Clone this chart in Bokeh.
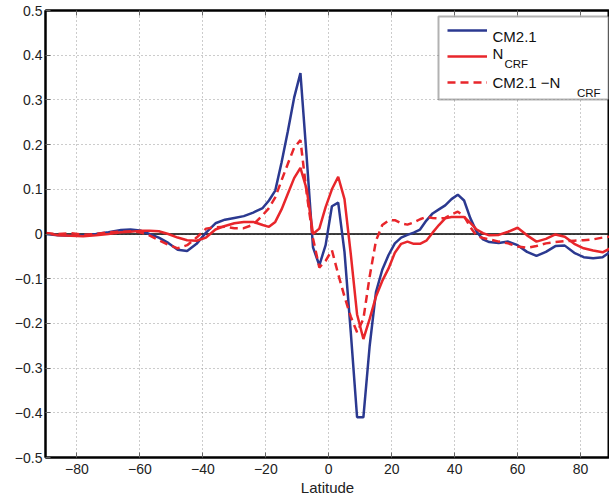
from bokeh.plotting import figure
from bokeh.models import (Range1d, FixedTicker, LinearAxis, Span, Legend, LegendItem, Label, BoxAnnotation)
from bokeh.embed import file_html
from bokeh.resources import INLINE

# ---- data ----
lat = [-90, -86, -82, -78, -74, -70, -66,
       -63, -60, -57, -54, -51, -48, -45, -42, -39, -36, -33, -30, -27, -24, -21,
       -19, -17, -15, -13, -11, -9, -7, -5, -3, -1,
       1, 3, 5, 7, 9, 11, 13, 15, 17, 19, 21, 23, 25, 27, 29, 31, 33, 35, 37, 39,
       41, 43, 45, 47, 49, 51,
       54, 57, 60, 63, 66, 69, 72, 75, 78, 81, 84, 87, 90]

cm21 = [0.000, -0.003, -0.004, -0.003, 0.000, 0.004, 0.009,
        0.010, 0.008, 0.000, -0.008, -0.020, -0.035, -0.038, -0.022, 0.003, 0.024, 0.032, 0.036, 0.040, 0.048, 0.058,
        0.075, 0.097, 0.160, 0.230, 0.305, 0.360, 0.170, -0.030, -0.070, -0.025,
        0.062, 0.070, -0.040, -0.220, -0.410, -0.410, -0.250, -0.130, -0.080, -0.047, -0.021, -0.008, -0.002, 0.003, 0.010, 0.030, 0.046, 0.055, 0.064, 0.078,
        0.088, 0.075, 0.035, 0.005, -0.012, -0.018,
        -0.020, -0.017, -0.025, -0.040, -0.049, -0.040, -0.027, -0.026, -0.042, -0.052, -0.054, -0.052, -0.037]

ncrf = [0.002, -0.003, -0.004, -0.005, -0.003, 0.000, 0.004,
        0.005, 0.007, 0.007, 0.006, 0.000, -0.008, -0.014, -0.015, -0.008, 0.010, 0.018, 0.024, 0.027, 0.027, 0.020,
        0.016, 0.027, 0.055, 0.090, 0.125, 0.148, 0.100, 0.000, 0.012, 0.060,
        0.100, 0.128, 0.078, -0.045, -0.180, -0.235, -0.190, -0.140, -0.105, -0.077, -0.042, -0.022, -0.017, -0.022, -0.022, -0.015, 0.003, 0.020, 0.035, 0.038,
        0.038, 0.038, 0.025, 0.010, 0.002, -0.003,
        -0.002, 0.005, 0.014, -0.003, -0.017, -0.011, -0.001, -0.006, -0.022, -0.032, -0.037, -0.041, -0.030]

diff = [0.002, 0.000, 0.002, -0.002, 0.000, 0.004, 0.005,
        0.006, 0.004, -0.003, -0.014, -0.024, -0.032, -0.025, -0.008, 0.012, 0.015, 0.016, 0.013, 0.013, 0.021, 0.042,
        0.058, 0.082, 0.120, 0.157, 0.193, 0.210, 0.090, -0.010, -0.075, -0.060,
        -0.036, -0.090, -0.140, -0.185, -0.220, -0.190, -0.095, -0.015, 0.020, 0.030, 0.031, 0.024, 0.021, 0.026, 0.033, 0.038, 0.036, 0.035, 0.036, 0.044,
        0.050, 0.040, 0.015, -0.004, -0.009, -0.012,
        -0.017, -0.021, -0.028, -0.031, -0.027, -0.021, -0.018, -0.016, -0.015, -0.014, -0.012, -0.008, -0.005]

x_ticks = [-80, -60, -40, -20, 0, 20, 40, 60, 80]
y_ticks = [-0.5, -0.4, -0.3, -0.2, -0.1, 0, 0.1, 0.2, 0.3, 0.4, 0.5]
x_labels = ["\u221280", "\u221260", "\u221240", "\u221220", "0", "20", "40", "60", "80"]
y_labels = ["\u22120.5", "\u22120.4", "\u22120.3", "\u22120.2", "\u22120.1", "0", "0.1", "0.2", "0.3", "0.4", "0.5"]

BLUE = "#2b3990"
RED = "#e8262b"
FONT = "Liberation Sans"

p = figure(frame_width=564, frame_height=447,
           min_border_left=45, min_border_right=0, min_border_top=10, min_border_bottom=40,
           x_range=Range1d(-90, 89.2), y_range=Range1d(-0.5, 0.5),
           output_backend="svg", toolbar_location=None)
p.background_fill_color = "white"
p.border_fill_color = "white"
p.outline_line_color = "black"
p.outline_line_width = 2

for ax, ticks, labels in ((p.xaxis[0], x_ticks, x_labels), (p.yaxis[0], y_ticks, y_labels)):
    ax.ticker = FixedTicker(ticks=ticks)
    ax.major_label_overrides = {t: l for t, l in zip(ticks, labels)}
    ax.major_tick_in = 5
    ax.major_tick_out = 0
    ax.major_tick_line_color = "#666666"
    ax.minor_tick_line_color = None
    ax.axis_line_width = 2
    ax.axis_line_color = "black"
    ax.major_label_text_font = FONT
    ax.major_label_text_font_size = "14px"
    ax.major_label_text_color = "#222222"

p.yaxis[0].major_label_standoff = 3
p.xaxis[0].major_label_standoff = 6
p.xaxis[0].axis_label = "Latitude"
p.xaxis[0].axis_label_text_font = FONT
p.xaxis[0].axis_label_text_font_size = "15px"
p.xaxis[0].axis_label_text_font_style = "normal"
p.xaxis[0].axis_label_text_color = "#222222"
p.xaxis[0].axis_label_standoff = 2

# mirrored ticks on the top edge (no labels drawn)
top = LinearAxis(ticker=FixedTicker(ticks=x_ticks), major_tick_in=5, major_tick_out=0,
                 major_tick_line_color="#666666", minor_tick_line_color=None,
                 major_label_text_font_size="1px", major_label_text_color=None,
                 major_label_standoff=0, axis_line_width=2, axis_line_color="black")
p.add_layout(top, "above")

for g in (p.xgrid[0], p.ygrid[0]):
    g.grid_line_color = "#999999"
    g.grid_line_dash = "1 3"
    g.grid_line_width = 1
p.xgrid[0].ticker = FixedTicker(ticks=x_ticks)
p.ygrid[0].ticker = FixedTicker(ticks=y_ticks)

# legend frame: white box with black border (screen px from the frame's bottom-left)
p.add_layout(BoxAnnotation(left=393, right=563, bottom=358, top=441,
                           left_units="screen", right_units="screen",
                           bottom_units="screen", top_units="screen",
                           fill_color="white", fill_alpha=1,
                           line_color="black", line_width=2, level="underlay"))

zero = Span(location=0, dimension="width", line_color="black", line_width=1.3, level="underlay")
p.add_layout(zero)

r1 = p.line(lat, cm21, line_color=BLUE, line_width=2.5)
r2 = p.line(lat, ncrf, line_color=RED, line_width=2.5)
r3 = p.line(lat, diff, line_color=RED, line_width=2.5, line_dash="8 5")

legend = Legend(items=[LegendItem(label=" ", renderers=[r1]),
                       LegendItem(label=" ", renderers=[r2]),
                       LegendItem(label=" ", renderers=[r3])],
                location=(402, 367), orientation="vertical",
                padding=0, spacing=10, glyph_width=40, glyph_height=16, label_height=16,
                label_standoff=5, label_width=60, margin=0,
                border_line_color=None, background_fill_alpha=0,
                label_text_font=FONT, label_text_font_size="10px", label_text_color=None)
p.add_layout(legend)

def lab(x, y, text, size):
    p.add_layout(Label(x=x, y=y, x_units="screen", y_units="screen", text=text,
                       text_font=FONT, text_font_size=size, text_color="#111111",
                       text_baseline="alphabetic", text_align="left", level="overlay"))

lab(447, 421, "CM2.1", "15px")
lab(447, 404, "N", "15px")
lab(459, 393.5, "CRF", "11.5px")
lab(447, 375, "CM2.1 \u2212N", "15px")
lab(531.5, 365, "CRF", "11.5px")

open("out.html", "w").write(file_html(p, INLINE))
